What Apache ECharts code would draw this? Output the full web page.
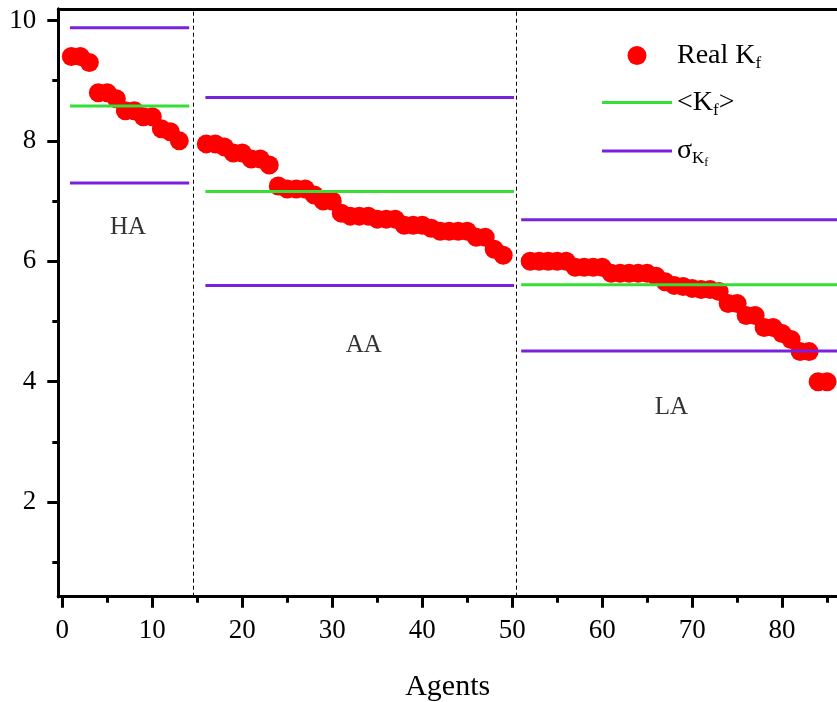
<!DOCTYPE html>
<html>
<head>
<meta charset="utf-8">
<script src="https://cdn.jsdelivr.net/npm/echarts@6/dist/echarts.min.js"></script>
<style>html,body{margin:0;padding:0;background:#fff;}#c{width:837px;height:702px;}</style>
</head>
<body>
<div id="c"></div>
<script>
// ---- data ----
const haAgents = [1,2,3,4,5,6,7,8,9,10,11,12,13];
const haKf = [9.4,9.4,9.3,8.8,8.8,8.7,8.5,8.5,8.4,8.4,8.2,8.15,8.0];
const aaAgents = [16,17,18,19,20,21,22,23,24,25,26,27,28,29,30,31,32,33,34,35,36,37,38,39,40,41,42,43,44,45,46,47,48,49];
const aaKf = [7.95,7.95,7.9,7.8,7.8,7.7,7.7,7.6,7.25,7.2,7.2,7.2,7.1,7.0,7.0,6.8,6.75,6.75,6.75,6.7,6.7,6.7,6.6,6.6,6.6,6.55,6.5,6.5,6.5,6.5,6.4,6.4,6.2,6.1];
const laAgents = [52,53,54,55,56,57,58,59,60,61,62,63,64,65,66,67,68,69,70,71,72,73,74,75,76,77,78,79,80,81,82,83,84,85];
const laKf = [6.0,6.0,6.0,6.0,6.0,5.9,5.9,5.9,5.9,5.8,5.8,5.8,5.8,5.8,5.75,5.66,5.6,5.58,5.55,5.53,5.53,5.5,5.3,5.3,5.1,5.1,4.9,4.9,4.8,4.7,4.5,4.5,4.0,4.0];

const groupNames = ['HA','AA','LA'];
const groupStart = [0.85, 15.9, 51.0];
const groupEnd = [14.1, 50.2, 87];
const meanKf = [8.58, 7.16, 5.61];
const sigmaUpper = [9.88, 8.72, 6.69];
const sigmaLower = [7.30, 5.60, 4.51];
const groupLabelPos = [[7.3, 6.57], [33.5, 4.61], [67.7, 3.57]];
const separators = [14.5, 50.5];

const xMajorTicks = [0,10,20,30,40,50,60,70,80];
const xMinorTicks = [5,15,25,35,45,55,65,75,85];
const yMajorTicks = [2,4,6,8,10];
const yMinorTicks = [1,3,5,7,9];

// ---- chart ----
const FONT = "'Liberation Serif','Times New Roman',serif";
const RED = '#ff0000', GREEN = '#35df35', PURPLE = '#7b20de';
const NAME_REAL = 'Real Kf', NAME_MEAN = '<Kf>', NAME_SIG = 'sigmaKf';
const LINE_ICON = 'path://M0,0L70,0L70,3L0,3Z';

const points = [];
[[haAgents,haKf],[aaAgents,aaKf],[laAgents,laKf]].forEach(([a,v]) => a.forEach((x,i) => points.push([x, v[i]])));

const series = [{
  name: NAME_REAL, type: 'scatter', symbol: 'circle', symbolSize: 19,
  itemStyle: {color: RED, opacity: 1}, data: points, z: 2,
  markLine: {
    silent: true, symbol: 'none', animation: false,
    label: {show: false},
    lineStyle: {color: '#000', width: 1, type: [4, 3]},
    data: separators.map(x => ({xAxis: x}))
  }
}];
for (let g = 0; g < 3; g++) {
  series.push({name: NAME_MEAN, type: 'line', symbol: 'none', showSymbol: false, z: 3,
    lineStyle: {color: GREEN, width: 3}, itemStyle: {color: GREEN},
    data: [[groupStart[g], meanKf[g]], [groupEnd[g], meanKf[g]]]});
  series.push({name: NAME_SIG, type: 'line', symbol: 'none', showSymbol: false, z: 3,
    lineStyle: {color: PURPLE, width: 3}, itemStyle: {color: PURPLE},
    data: [[groupStart[g], sigmaUpper[g]], [groupEnd[g], sigmaUpper[g]]]});
  series.push({name: NAME_SIG, type: 'line', symbol: 'none', showSymbol: false, z: 3,
    lineStyle: {color: PURPLE, width: 3}, itemStyle: {color: PURPLE},
    data: [[groupStart[g], sigmaLower[g]], [groupEnd[g], sigmaLower[g]]]});
}
series.push({
  name: 'groups', type: 'scatter', symbolSize: 0, silent: true, z: 4,
  data: groupNames.map((n, i) => ({name: n, value: groupLabelPos[i]})),
  label: {show: true, position: 'inside', formatter: '{b}', fontFamily: FONT, fontSize: 25, color: '#000'}
});

const legendLabels = {};
legendLabels[NAME_REAL] = '{b|Real K}{s|f}';
legendLabels[NAME_MEAN] = '{b|<K}{s|f}{b|>}';
legendLabels[NAME_SIG] = '{b|σ}{s|K}{ss|f}';

const chart = echarts.init(document.getElementById('c'), null, {renderer: 'canvas'});
chart.setOption({
  animation: false,
  backgroundColor: '#fff',
  grid: {left: 58.3, right: 0, top: 9, bottom: 105.3, containLabel: false, outerBoundsMode: 'none'},
  legend: {
    orient: 'vertical', left: 597, top: 34, itemWidth: 70, itemHeight: 19, itemGap: 14,
    data: [
      {name: NAME_REAL, icon: 'circle'},
      {name: NAME_MEAN, icon: LINE_ICON, itemStyle: {color: GREEN}},
      {name: NAME_SIG, icon: LINE_ICON, itemStyle: {color: PURPLE}}
    ],
    formatter: n => legendLabels[n],
    textStyle: {
      fontFamily: FONT, fontSize: 28, color: '#000',
      rich: {
        b: {fontFamily: FONT, fontSize: 28, color: '#000', lineHeight: 30, verticalAlign: 'middle'},
        s: {fontFamily: FONT, fontSize: 17, color: '#000', lineHeight: 18, padding: [16, 0, 0, 0], verticalAlign: 'middle'},
        ss: {fontFamily: FONT, fontSize: 12, color: '#000', lineHeight: 12, padding: [24, 0, 0, 0], verticalAlign: 'middle'}
      }
    }
  },
  xAxis: [{
    type: 'value', min: -0.45, max: 86.1, position: 'bottom',
    axisLine: {show: true, onZero: false, lineStyle: {color: '#000', width: 3}},
    axisTick: {show: true, customValues: xMajorTicks, length: 11, inside: false, lineStyle: {color: '#000', width: 3}},
    axisLabel: {show: true, customValues: xMajorTicks, fontFamily: FONT, fontSize: 27, color: '#000', margin: 21},
    splitLine: {show: false},
    name: 'Agents', nameLocation: 'middle', nameGap: 75,
    nameTextStyle: {fontFamily: FONT, fontSize: 30, color: '#000'}
  }, {
    type: 'value', min: -0.45, max: 86.1, position: 'bottom', offset: 0,
    axisLine: {show: true, onZero: false, lineStyle: {color: '#000', width: 3}},
    axisTick: {show: true, customValues: xMinorTicks, length: 6, inside: false, lineStyle: {color: '#000', width: 3}},
    axisLabel: {show: false}, splitLine: {show: false}
  }, {
    type: 'value', min: -0.45, max: 86.1, position: 'top',
    axisLine: {show: true, onZero: false, lineStyle: {color: '#000', width: 3}},
    axisTick: {show: false}, axisLabel: {show: false}, splitLine: {show: false}
  }],
  yAxis: [{
    type: 'value', min: 0.43, max: 10.19, position: 'left',
    axisLine: {show: true, onZero: false, lineStyle: {color: '#000', width: 3}},
    axisTick: {show: true, customValues: yMajorTicks, length: 11, inside: false, lineStyle: {color: '#000', width: 3}},
    axisLabel: {show: true, customValues: yMajorTicks, fontFamily: FONT, fontSize: 27, color: '#000', margin: 22},
    splitLine: {show: false}
  }, {
    type: 'value', min: 0.43, max: 10.19, position: 'left', offset: 0,
    axisLine: {show: true, onZero: false, lineStyle: {color: '#000', width: 3}},
    axisTick: {show: true, customValues: yMinorTicks, length: 6, inside: false, lineStyle: {color: '#000', width: 3}},
    axisLabel: {show: false}, splitLine: {show: false}
  }],
  series: series
});
</script>
</body>
</html>
